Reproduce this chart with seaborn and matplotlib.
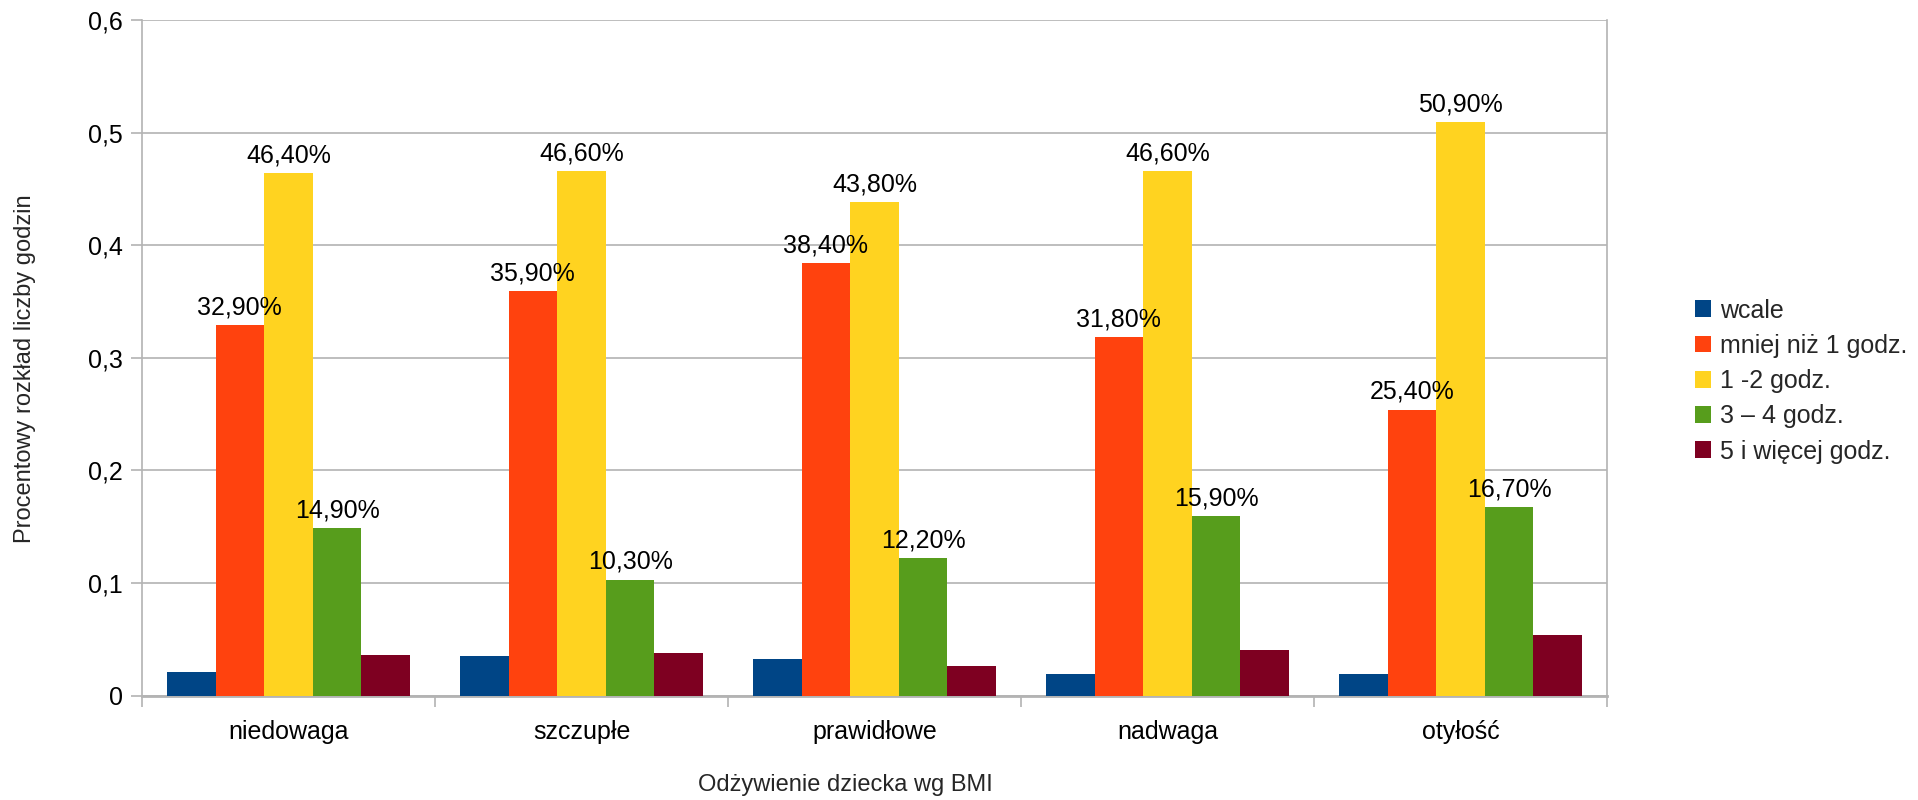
import matplotlib
matplotlib.use("Agg")
import matplotlib.pyplot as plt
from matplotlib.patches import Patch
from matplotlib.ticker import FuncFormatter, FixedLocator
import numpy as np
import pandas as pd
import seaborn as sns

# BMI groups and time-spent categories
categories = ["niedowaga", "szczupłe", "prawidłowe", "nadwaga", "otyłość"]
series = ["wcale", "mniej niż 1 godz.", "1 -2 godz.", "3 – 4 godz.", "5 i więcej godz."]

wcale = [0.021, 0.035, 0.032, 0.019, 0.019]
mniej_niz_1 = [0.329, 0.359, 0.384, 0.318, 0.254]
od_1_do_2 = [0.464, 0.466, 0.438, 0.466, 0.509]
od_3_do_4 = [0.149, 0.103, 0.122, 0.159, 0.167]
od_5 = [0.036, 0.038, 0.026, 0.040, 0.054]

# only these series carry value labels
labelled_series = ["mniej niż 1 godz.", "1 -2 godz.", "3 – 4 godz."]

colors = ["#004586", "#ff420e", "#ffd320", "#579d1c", "#7e0021"]

values = [wcale, mniej_niz_1, od_1_do_2, od_3_do_4, od_5]
df = pd.DataFrame(
    [(c, s, v) for s, vals in zip(series, values) for c, v in zip(categories, vals)],
    columns=["kategoria", "seria", "wartosc"],
)

sns.set_theme(style="white")
plt.rcParams["font.family"] = ["Liberation Sans", "DejaVu Sans"]
plt.rcParams["font.size"] = 18

fig = plt.figure(figsize=(19.18, 8.0), dpi=100)
ax = fig.add_axes([142 / 1918, 1 - 695.5 / 800, (1607 - 142) / 1918, (695.5 - 20) / 800])

sns.barplot(
    data=df, x="kategoria", y="wartosc", hue="seria",
    order=categories, hue_order=series, palette=colors,
    width=0.83, saturation=1, legend=False, ax=ax, zorder=3,
    linewidth=0, edgecolor="none",
)

grid_col = "#b3b3b3"
ax.set_ylim(0, 0.6)
ax.set_xlim(-0.5, len(categories) - 0.5)
ax.yaxis.set_major_locator(FixedLocator(np.arange(0, 0.61, 0.1)))
ax.yaxis.set_major_formatter(
    FuncFormatter(lambda v, _: "0" if abs(v) < 1e-9 else f"{v:.1f}".replace(".", ","))
)
ax.grid(axis="y", color=grid_col, linewidth=1.2, zorder=0)
ax.set_axisbelow(True)

for side, sp in ax.spines.items():
    sp.set_color(grid_col)
    sp.set_linewidth(1.2)
ax.spines["top"].set_visible(False)
ax.spines["bottom"].set_linewidth(2.0)

ax.tick_params(axis="y", which="major", left=True, length=8, width=1.2,
               color=grid_col, labelsize=18, pad=6, labelcolor="#000000")
ax.tick_params(axis="x", which="major", bottom=False, length=0,
               labelsize=18, pad=18, labelcolor="#000000")
ax.xaxis.set_minor_locator(FixedLocator(np.arange(-0.5, len(categories), 1.0)))
ax.tick_params(axis="x", which="minor", bottom=True, length=8, width=1.2, color=grid_col)

ax.set_xlabel("")
ax.set_ylabel("")

# value labels above the labelled series
for s, cont in zip(series, ax.containers):
    if s in labelled_series:
        vals = df[df["seria"] == s].set_index("kategoria").loc[categories, "wartosc"]
        labels = [f"{v * 100:.2f}%".replace(".", ",") for v in vals]
        ax.bar_label(cont, labels=labels, padding=4, fontsize=18, color="#000000")

fig.text(845 / 1918, 1 - 785 / 800, "Odżywienie dziecka wg BMI",
         ha="center", va="center", fontsize=17)
fig.text(25 / 1918, 1 - 369 / 800, "Procentowy rozkład liczby godzin",
         ha="center", va="center", rotation=90, fontsize=17)

handles = [Patch(facecolor=c, edgecolor="none") for c in colors]
fig.legend(
    handles, series, loc="center left", bbox_to_anchor=(1695 / 1918, 1 - 381 / 800),
    frameon=False, borderpad=0, borderaxespad=0, fontsize=18,
    handlelength=0.65, handleheight=0.65, handletextpad=0.35, labelspacing=0.45,
)

fig.savefig("out.png", dpi=100, facecolor="white")
